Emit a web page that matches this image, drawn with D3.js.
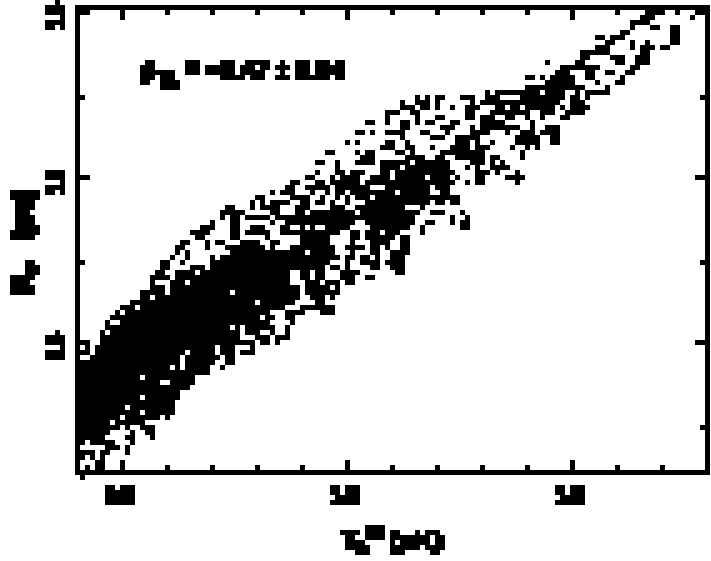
<!DOCTYPE html>
<html><head><meta charset="utf-8">
<script src="https://cdn.jsdelivr.net/npm/d3@7/dist/d3.min.js"></script>
<style>html,body{margin:0;background:#fff}svg{display:block}text{font-family:"Liberation Sans",sans-serif;font-weight:700;fill:#000}</style>
</head><body><svg id="c" width="711" height="561"></svg>
<script>
// Occupied cells of the density raster: [row, firstCol, lastCol, firstCol, lastCol, ...]
const rowsTop = [
[1,114,117,120,120,124,125],[2,113,115,123,123],[3,111,114],[4,111,111,115,116,119,120],[5,109,110,119,120],
[6,104,105,107,109,119,120],[7,106,107,111,111,114,114,119,120],[8,104,106,111,111,113,115,117,118],[9,101,106,113,114],
[10,101,102,107,109,112,114],[11,94,94,100,101,108,109,112,114],[12,97,104,111,112],[13,96,98,102,103,106,107,110,111],
[14,90,91,93,93,95,99,102,103,109,109],[15,94,99,104,104,108,109],[16,90,101,106,106],
[17,82,82,84,92,94,97,100,100,102,105,106,106],[18,68,68,70,70,72,73,77,79,82,84,89,97,99,100,102,102],
[19,65,65,68,70,72,72,79,79,81,96,99,101],[20,65,67,69,70,72,72,75,75,78,80,84,85,87,88,90,95,97,97,99,102],
[21,62,64,67,68,78,79,83,90,93,95,98,101],[22,62,62,68,68,72,73,78,79,81,83,86,87,90,90,93,93,97,98],
[23,58,59,62,62,65,66,68,68,70,71,75,76,81,85,91,91],[24,65,66,73,75,79,79,81,88,91,91,94,96],
[25,56,57,59,59,62,65,69,70,74,74,79,82,86,86,89,91,93,96],[26,65,65,71,73,76,80,88,92,95,96],
[27,54,54,56,56,62,63,66,66,76,78,80,80,83,83,88,92,95,96],[28,61,63,66,67,71,71,75,78,80,82,87,87,90,90,92,92],
[29,50,51,56,56,58,59,64,65,67,67,73,81,89,89],[30,57,59,66,69,72,73,76,81,83,84,89,89]
];
const rowsMiddle = [
[31,48,49,52,52,56,59,61,66,68,74,79,81,83,83,85,85],[32,52,52,61,64,66,74,78,78,80,80,83,86],
[33,48,48,52,53,55,57,61,62,64,75,80,82,84,84,88,88],[34,46,47,51,51,53,56,59,62,64,69,71,74,76,76,80,81,86,89],
[35,43,44,48,49,51,56,58,75,78,78,80,81,88,88],[36,42,43,46,50,52,58,62,70,72,74],
[37,39,39,41,43,47,47,50,50,52,53,55,63,65,70,73,74],[38,36,37,43,43,44,46,49,49,52,52,54,54,56,58,60,76],
[39,35,35,37,37,39,42,45,46,48,49,51,51,54,54,58,70,72,73,75,76],[40,30,31,35,35,37,40,44,46,51,53,56,65,69,69],
[41,29,33,39,40,44,45,47,55,57,68,71,73,77,77],[42,29,29,31,32,34,38,40,67,75,75,78,78],
[43,27,27,31,32,39,39,42,55,58,67,70,71,75,75,77,78],[44,25,27,31,32,35,37,41,42,45,45,47,47,50,54,59,66,69,69,77,78],
[45,23,26,31,32,34,38,41,52,55,56,58,60,62,64,69,69],[46,24,25,31,32,38,38,45,50,55,56,58,63,65,66],
[47,21,22,26,26,28,29,33,36,39,40,45,50,55,55,59,62,65,66],[48,20,21,26,26,30,37,39,39,43,51,54,57,59,60,62,62,65,66],
[49,20,20,22,22,31,45,47,51,55,55,59,60,63,66],[50,19,19,22,22,27,27,29,52,54,55,57,58,60,60,63,65],
[51,17,18,21,21,27,50,54,54,57,60,62,65],[52,17,18,23,25,27,49,51,52,54,54,59,60,63,65],
[53,16,17,20,23,25,42,45,46,48,49,53,56,64,65],[54,15,18,20,42,45,46,48,49,53,55,58,59]
];
const rowsBottom = [
[55,15,15,19,21,23,42,46,48,50,52,54,55],[56,15,17,19,44,46,50,52,52],[57,13,17,19,30,32,44,46,52],[58,13,14,16,44,47,49,51,51],
[59,11,35,37,43,48,49],[60,9,11,13,41,45,51],[61,8,8,10,38,42,45,49,51],[62,7,36,38,39,42,43],[63,6,6,9,38,43,43],
[64,6,30,32,32,34,39,42,42],[65,5,5,7,32,34,36,39,39,42,42],[66,5,32,36,38,40,42],[67,1,2,5,35,37,38,40,40],
[68,2,2,4,27,29,31,35,35],[69,1,2,4,21,23,27,29,31,33,35],[70,3,20,22,28,30,31],[71,1,20,22,27,30,31],
[72,1,18,20,20,22,26,29,29],[73,1,26],[74,1,12,14,23],[75,1,16,19,23],[76,1,22],[77,1,20],[78,1,12,14,20],[79,1,19],
[80,1,9,11,19],[81,1,12,14,19],[82,1,8,10,16,18,18],[83,1,6,8,13],[84,1,8,10,10,13,15],[85,1,6,11,11,14,15],
[86,1,5,10,11,15,15],[87,1,1,3,7,11,11],[88,6,8,10,10],[89,1,3,5,6,10,10],[90,1,1,3,3,5,5],[91,4,5],[92,2,2,4,5],[94,1,1]
];
const xMajor = [0.5, 1.0, 1.5];
const xMinor = [0.6, 0.7, 0.8, 0.9, 1.1, 1.2, 1.3, 1.4, 1.6, 1.7];
const yMajor = [1.5, 1.0, 0.5];
const yMinor = [1.25, 0.75, 0.25];
const xTickLabels = ["0.5", "1.0", "1.5"];
const yTickLabels = ["1.5", "1.0", "0.5"];
const statText = ["ρ", "TL", " = −0.47 ± 0.04"];

const svg = d3.select("#c");
const defs = svg.append("defs");
// Coarse raster look for the real text: thicken, sample on the 5 px grid, then grow each sample to a block.
const f = defs.append("filter").attr("id","px").attr("filterUnits","userSpaceOnUse").attr("primitiveUnits","userSpaceOnUse")
  .attr("x",0).attr("y",0).attr("width",711).attr("height",561).attr("color-interpolation-filters","sRGB");
f.append("feMorphology").attr("in","SourceGraphic").attr("operator","dilate").attr("radius",1.5).attr("result","thick");
f.append("feFlood").attr("x",2).attr("y",2).attr("width",1).attr("height",1).attr("flood-color","#000");
f.append("feComposite").attr("width",5).attr("height",5);
f.append("feTile").attr("result","dots");
f.append("feComposite").attr("in","thick").attr("in2","dots").attr("operator","in");
f.append("feMorphology").attr("operator","dilate").attr("radius",2);
const ct = f.append("feComponentTransfer");
ct.append("feFuncA").attr("type","discrete").attr("tableValues","0 1 1 1");

const x = d3.scaleLinear().domain([0.4,1.8]).range([77.5,707.5]);
const y = d3.scaleLinear().domain([1.5,0.5]).range([12.5,342.5]);
const colX = d3.scaleLinear().domain([0,126]).range([75,705]);
const rowY = d3.scaleLinear().domain([0,94]).range([5,475]);

const cells = [];
for (const rows of [rowsTop, rowsMiddle, rowsBottom]) for (const r of rows)
  for (let i = 1; i < r.length; i += 2)
    for (const c of d3.range(r[i], r[i+1] + 1)) cells.push({r: r[0], c});
svg.append("g").attr("shape-rendering","crispEdges").selectAll("rect").data(cells).join("rect")
  .attr("x",d=>colX(d.c)).attr("y",d=>rowY(d.r))
  .attr("width",colX(1)-colX(0)).attr("height",rowY(1)-rowY(0)).attr("fill","#000");

// frame
svg.append("rect").attr("x",x.range()[0]).attr("y",12.5-5).attr("width",x.range()[1]-x.range()[0]).attr("height",465)
  .attr("fill","none").attr("stroke","#000").attr("stroke-width",5).attr("shape-rendering","crispEdges");

function ticks(gen, tf, vals, size){
  const g = svg.append("g").attr("transform",tf)
    .call(gen.tickValues(vals).tickSizeInner(size).tickSizeOuter(0).tickFormat("").offset(0));
  g.select(".domain").remove();
  g.selectAll("line").attr("stroke","#000").attr("stroke-width",5).attr("shape-rendering","crispEdges");
  g.selectAll(".tick").attr("transform",function(){
    const m = /translate\(([-\d.]+),\s*([-\d.]+)\)/.exec(this.getAttribute("transform"));
    const s = v => Math.floor(+v/5)*5+2.5;
    return `translate(${+m[1]===0?0:s(m[1])},${+m[2]===0?0:s(m[2])})`;
  });
}
ticks(d3.axisTop(x),"translate(0,472.5)",xMajor,12.5);
ticks(d3.axisTop(x),"translate(0,472.5)",xMinor,7.5);
ticks(d3.axisBottom(x),"translate(0,7.5)",xMajor,12.5);
ticks(d3.axisBottom(x),"translate(0,7.5)",xMinor,7.5);
ticks(d3.axisRight(y),"translate(77.5,0)",yMajor,12.5);
ticks(d3.axisRight(y),"translate(77.5,0)",yMinor,7.5);
ticks(d3.axisLeft(y),"translate(707.5,0)",yMajor,12.5);
ticks(d3.axisLeft(y),"translate(707.5,0)",yMinor,7.5);

const t = svg.append("g").attr("filter","url(#px)");
xMajor.forEach((v,i)=>t.append("text").attr("x",x(v)-3).attr("y",503).attr("text-anchor","middle")
  .attr("font-size",24).attr("textLength",28).attr("lengthAdjust","spacingAndGlyphs").text(xTickLabels[i]));
yMajor.forEach((v,i)=>t.append("text").attr("transform",`translate(63,${y(v)+4}) rotate(-90)`).attr("text-anchor","middle")
  .attr("font-size",21).attr("textLength",25).attr("lengthAdjust","spacingAndGlyphs").text(yTickLabels[i]));

const st = t.append("text").attr("x",141).attr("y",79).attr("font-size",27).attr("textLength",203).attr("lengthAdjust","spacingAndGlyphs");
st.append("tspan").text(statText[0]);
st.append("tspan").attr("font-size",22).attr("dy",7).text(statText[1]);
st.append("tspan").attr("dy",-7).text(statText[2]);

const xt = t.append("text").attr("x",341).attr("y",549).attr("font-size",26);
xt.append("tspan").text("T");
xt.append("tspan").attr("font-size",17).attr("dy",4).text("b");
xt.append("tspan").attr("font-size",17).attr("dy",-14).text("IR");
xt.append("tspan").attr("dy",10).attr("dx",6).text("(μK)");

const yt = t.append("text").attr("transform","translate(31,294) rotate(-90)").attr("font-size",27);
yt.append("tspan").text("R");
yt.append("tspan").attr("font-size",20).attr("dy",5).text("e");
yt.append("tspan").attr("dy",-5).attr("dx",24).text("(pc)");
</script></body></html>
